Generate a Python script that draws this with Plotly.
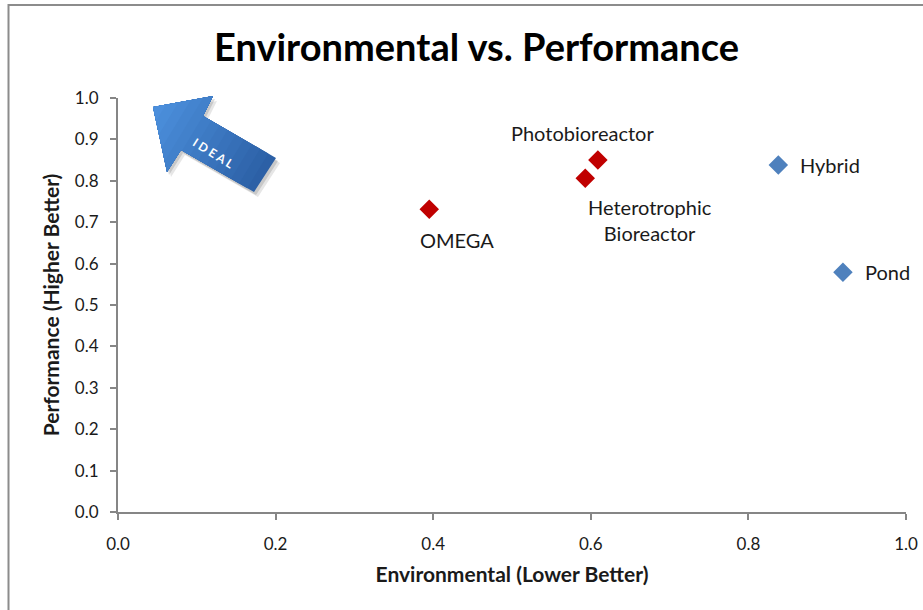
import math
import plotly.graph_objects as go

# ---- data ----
red_names = ["OMEGA", "Heterotrophic<br>Bioreactor", "Photobioreactor"]
red_x = [0.395, 0.593, 0.609]
red_y = [0.731, 0.806, 0.850]

blue_names = ["Hybrid", "Pond"]
blue_x = [0.838, 0.920]
blue_y = [0.838, 0.579]

tick_vals = [0.0, 0.1, 0.2, 0.3, 0.4, 0.5, 0.6, 0.7, 0.8, 0.9, 1.0]
x_tick_vals = [0.0, 0.2, 0.4, 0.6, 0.8, 1.0]

# label offsets in pixels (xshift, yshift, xanchor)
red_label_pos = [(28, -31, "center"), (65, -42, "center"), (-15, 27, "center")]
blue_label_pos = [(20, 0, "left"), (20, 0, "left")]

W, H = 923, 610
L, R, T, B = 118, 17, 98, 98
PW, PH = W - L - R, H - T - B

def px(x):
    return (x - L) / PW

def py(y):
    return (H - B - y) / PH

FONT = "Lato, Calibri, sans-serif"
AX = "#868686"
TXT = "#1a1a1a"

fig = go.Figure()
fig.add_trace(go.Scatter(x=red_x, y=red_y, mode="markers", name="Red",
                         marker=dict(symbol="diamond", size=15, color="#C00000"),
                         hoverinfo="x+y", showlegend=False))
fig.add_trace(go.Scatter(x=blue_x, y=blue_y, mode="markers", name="Blue",
                         marker=dict(symbol="diamond", size=15, color="#4F81BD"),
                         hoverinfo="x+y", showlegend=False))

annotations = []
for n, x, y, (xs, ys, xa) in zip(red_names + blue_names, red_x + blue_x, red_y + blue_y,
                                 red_label_pos + blue_label_pos):
    annotations.append(dict(x=x, y=y, xref="x", yref="y", text=n, showarrow=False,
                            xshift=xs, yshift=ys, xanchor=xa, yanchor="middle",
                            font=dict(family=FONT, size=20, color=TXT)))

# IDEAL arrow decoration (pixel outline converted to paper coords)
arrow_pts = [(153, 107), (213, 96), (203, 116), (276, 158), (254, 192), (181, 150), (167, 172)]
tip = (153, 107)
ax_dx, ax_dy = 112, 68
nrm = math.hypot(ax_dx, ax_dy)
ux, uy = ax_dx / nrm, ax_dy / nrm

def proj(p):
    return (p[0] - tip[0]) * ux + (p[1] - tip[1]) * uy

def clip(poly, smax):
    out = []
    n = len(poly)
    for i in range(n):
        a, b = poly[i], poly[(i + 1) % n]
        sa, sb = proj(a) - smax, proj(b) - smax
        if sa <= 0:
            out.append(a)
        if (sa <= 0) != (sb <= 0):
            t = sa / (sa - sb)
            out.append((a[0] + t * (b[0] - a[0]), a[1] + t * (b[1] - a[1])))
    return out

def path_of(pts, dx=0, dy=0):
    return "M " + " L ".join(f"{px(x+dx):.5f},{py(y+dy):.5f}" for x, y in pts) + " Z"

shapes = [
    dict(type="rect", xref="paper", yref="paper", x0=px(8.5), y0=py(5), x1=px(930), y1=py(620),
         line=dict(color="#8c8c8c", width=2), fillcolor="rgba(0,0,0,0)", layer="below"),
    dict(type="path", xref="paper", yref="paper", path=path_of(arrow_pts, 4, 5),
         fillcolor="rgba(140,140,140,0.22)", line=dict(width=0)),
    dict(type="path", xref="paper", yref="paper", path=path_of(arrow_pts, 2, 3),
         fillcolor="rgba(110,110,110,0.25)", line=dict(width=0)),
]
c0 = (0x2C, 0x60, 0xA6)   # tail colour
c1 = (0x4E, 0x93, 0xE0)   # tip colour
smax_all = max(proj(p) for p in arrow_pts)
steps = 14
for k in range(steps + 1):
    f = 1 - k / steps
    s = smax_all * f + 0.5
    poly = arrow_pts if k == 0 else clip(arrow_pts, s)
    if len(poly) < 3:
        continue
    t = k / steps
    col = tuple(round(c0[i] + (c1[i] - c0[i]) * t) for i in range(3))
    shapes.append(dict(type="path", xref="paper", yref="paper", path=path_of(poly),
                       fillcolor="rgb(%d,%d,%d)" % col, line=dict(width=0)))

annotations.append(dict(x=px(214), y=py(153), xref="paper", yref="paper",
                        xanchor="center", yanchor="middle",
                        text="<b>I D E A L</b>", showarrow=False, textangle=32,
                        font=dict(family=FONT, size=12, color="white")))

fig.update_layout(
    width=W, height=H,
    margin=dict(l=L, r=R, t=T, b=B, pad=0, autoexpand=False),
    paper_bgcolor="white", plot_bgcolor="white",
    title=dict(text="<b>Environmental vs. Performance</b>", xref="container", x=476.5 / W,
               xanchor="center", y=1 - 48 / H, yanchor="middle",
               font=dict(family=FONT, size=38, color="black")),
    xaxis=dict(range=[0, 1], tickvals=x_tick_vals, tickformat=".1f", automargin=False,
               showgrid=False, zeroline=False, showline=True, linecolor=AX, linewidth=2,
               ticks="outside", ticklen=6, tickcolor=AX, tickwidth=2,
               ticklabelstandoff=10,
               tickfont=dict(family=FONT, size=17, color=TXT),
               title=dict(text="<b>Environmental (Lower Better)</b>", standoff=14,
                          font=dict(family=FONT, size=21, color=TXT))),
    yaxis=dict(range=[0, 1], tickvals=tick_vals, tickformat=".1f", automargin=False,
               showgrid=False, zeroline=False, showline=True, linecolor=AX, linewidth=2,
               ticks="outside", ticklen=6, tickcolor=AX, tickwidth=2,
               ticklabelstandoff=8,
               tickfont=dict(family=FONT, size=17, color=TXT),
               title=dict(text="<b>Performance (Higher Better)</b>", standoff=10,
                          font=dict(family=FONT, size=21, color=TXT))),
    shapes=shapes,
    annotations=annotations,
)

fig.write_html("out.html", config={"displayModeBar": False},
               post_script="document.body.style.margin='0';document.body.style.overflow='hidden';")
